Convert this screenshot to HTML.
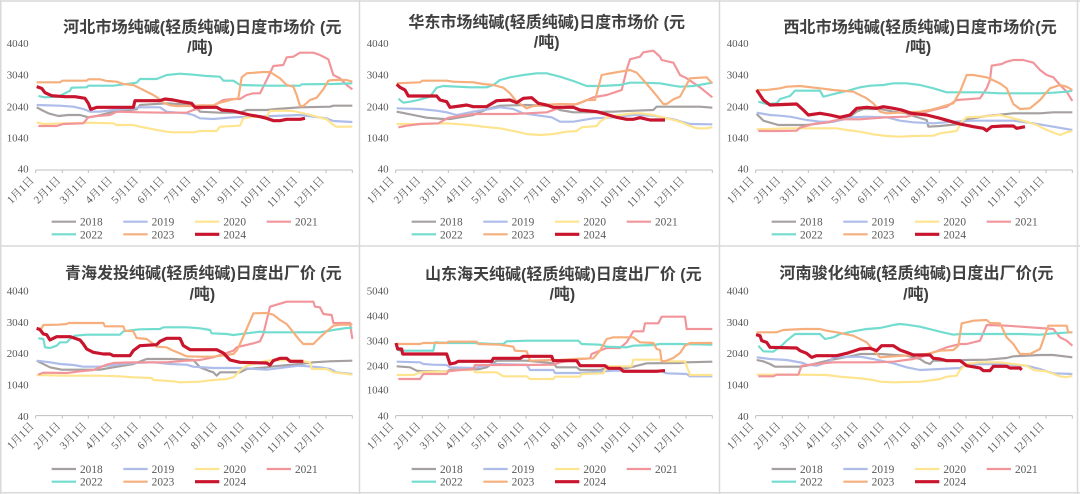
<!DOCTYPE html>
<html><head><meta charset="utf-8">
<style>
html,body{margin:0;padding:0;background:#fff;}
svg{display:block;}
.t{font-family:"Liberation Sans","Noto Sans CJK SC",sans-serif;font-weight:bold;font-size:48px;fill:#404040;text-anchor:middle;}
.yl text{font-family:"Liberation Serif",serif;font-size:33px;fill:#595959;text-anchor:end;}
.xl text{font-family:"Liberation Serif","Noto Serif CJK SC",serif;font-size:33px;fill:#595959;text-anchor:end;}
.lg text{font-family:"Liberation Serif",serif;font-size:34px;fill:#595959;}
.ax{stroke:#bfbfbf;stroke-width:3;fill:none;}
polyline,.lg line{fill:none;stroke-linejoin:round;stroke-linecap:butt;stroke-width:6.5;}
.c18{stroke:#a6a0a0;}.c19{stroke:#aebcea;}.c20{stroke:#ffe48f;}.c21{stroke:#f2959b;}.c22{stroke:#72dccf;}.c23{stroke:#f6ae7c;}.c24{stroke:#c8142c;stroke-width:9.5 !important;}
</style></head>
<body>
<svg width="1080" height="494" viewBox="0 0 1080 494" xmlns="http://www.w3.org/2000/svg">
<rect width="1080" height="494" fill="#fff"/>
<g stroke="#d9d9d9" stroke-width="1.5" fill="none">
<line x1="0.75" y1="0" x2="0.75" y2="494"/>
<line x1="0" y1="1" x2="1080" y2="1"/>
<line x1="0" y1="492.8" x2="1080" y2="492.8"/>
<line x1="1077.5" y1="0" x2="1077.5" y2="494"/>
<line x1="359.5" y1="0" x2="359.5" y2="494"/>
<line x1="719.5" y1="0" x2="719.5" y2="494"/>
<line x1="0" y1="246" x2="1080" y2="246"/>
</g>

<!-- PANEL 1 -->
<g transform="translate(0,0) scale(0.333333)">
<text class="t" x="607" y="98" textLength="835" lengthAdjust="spacingAndGlyphs">河北市场纯碱(轻质纯碱)日度市场价 (元</text>
<text class="t" x="600" y="158">/吨)</text>
<g class="yl"><text x="86" y="141">4040</text><text x="86" y="236">3040</text><text x="86" y="331">2040</text><text x="86" y="424">1040</text><text x="86" y="518">40</text></g>
<path class="ax" d="M107 510H1057M107 510v9M187 510v9M265 510v9M342 510v9M420 510v9M498 510v9M578 510v9M658 510v9M738 510v9M818 510v9M898 510v9M978 510v9M1057 510v9"/>
<g class="xl">
<text transform="translate(104,543) rotate(-45)">1月1日</text><text transform="translate(184,543) rotate(-45)">2月1日</text><text transform="translate(262,543) rotate(-45)">3月1日</text><text transform="translate(339,543) rotate(-45)">4月1日</text><text transform="translate(417,543) rotate(-45)">5月1日</text><text transform="translate(495,543) rotate(-45)">6月1日</text><text transform="translate(575,543) rotate(-45)">7月1日</text><text transform="translate(655,543) rotate(-45)">8月1日</text><text transform="translate(735,543) rotate(-45)">9月1日</text><text transform="translate(815,543) rotate(-45)">10月1日</text><text transform="translate(895,543) rotate(-45)">11月1日</text><text transform="translate(975,543) rotate(-45)">12月1日</text>
</g>
<polyline class="c18" points="110,322 125,330 145,340 175,348 205,345 240,345 265,352 290,348 340,335 410,328 420,315 500,310 580,315 600,335 660,338 720,338 740,330 800,330 830,327 900,322 990,320 1000,317 1057,317"/>
<polyline class="c19" points="110,315 180,317 220,320 250,327 270,335 300,335 340,330 400,325 420,322 480,322 500,335 560,340 580,345 600,355 640,357 700,352 760,350 820,348 900,345 940,350 980,355 1000,363 1057,366"/>
<polyline class="c20" points="110,367 130,372 200,370 260,368 340,370 350,375 400,375 420,380 460,388 500,395 520,397 580,397 600,393 650,393 660,380 720,377 730,355 760,350 800,350 810,333 840,332 880,333 920,342 950,350 980,358 1000,375 1010,380 1057,380"/>
<polyline class="c21" points="115,378 170,378 190,372 250,370 265,352 290,348 330,345 350,335 420,337 500,338 560,338 580,330 640,317 670,300 700,297 720,297 740,285 760,280 780,280 800,240 820,198 850,195 860,172 880,170 900,158 940,158 960,165 985,178 1000,225 1020,235 1040,255 1057,268"/>
<polyline class="c22" points="115,288 135,292 175,290 210,272 215,263 260,262 265,257 340,257 410,248 420,237 470,237 500,225 540,221 580,224 620,228 660,230 670,242 700,242 720,255 800,257 900,257 905,253 1000,252 1057,250"/>
<polyline class="c23" points="110,247 180,247 187,242 260,242 265,238 300,238 320,243 350,245 370,252 400,255 420,265 440,275 460,285 475,295 490,308 510,316 530,318 580,318 600,316 640,316 660,308 700,298 715,295 725,232 740,220 790,216 810,216 840,235 860,255 880,260 890,285 900,318 910,318 930,300 950,293 970,268 985,242 1000,240 1040,240 1057,245"/>
<polyline class="c24" points="110,260 125,265 135,278 155,287 195,290 225,290 255,295 265,310 272,328 290,322 400,322 405,302 480,302 495,297 520,300 545,305 575,310 585,322 650,322 665,330 700,333 720,338 750,345 780,350 800,355 820,362 840,362 860,358 900,358 915,355"/>
<g class="lg">
<line class="c18" x1="155" y1="665" x2="228" y2="665"/><text x="240" y="677">2018</text>
<line class="c19" x1="370" y1="665" x2="443" y2="665"/><text x="455" y="677">2019</text>
<line class="c20" x1="585" y1="665" x2="658" y2="665"/><text x="670" y="677">2020</text>
<line class="c21" x1="800" y1="665" x2="873" y2="665"/><text x="885" y="677">2021</text>
<line class="c22" x1="155" y1="703" x2="228" y2="703"/><text x="240" y="715">2022</text>
<line class="c23" x1="370" y1="703" x2="443" y2="703"/><text x="455" y="715">2023</text>
<line class="c24" x1="585" y1="703" x2="658" y2="703"/><text x="670" y="715">2024</text>
</g>
</g>

<!-- PANEL 2 -->
<g transform="translate(360,0) scale(0.333333)">
<text class="t" x="560" y="83" textLength="830" lengthAdjust="spacingAndGlyphs">华东市场纯碱(轻质纯碱)日度市场价 (元</text>
<text class="t" x="560" y="143">/吨)</text>
<g class="yl"><text x="86" y="141">4040</text><text x="86" y="236">3040</text><text x="86" y="331">2040</text><text x="86" y="424">1040</text><text x="86" y="518">40</text></g>
<path class="ax" d="M107 510H1057M107 510v9M187 510v9M265 510v9M342 510v9M420 510v9M498 510v9M578 510v9M658 510v9M738 510v9M818 510v9M898 510v9M978 510v9M1057 510v9"/>
<g class="xl">
<text transform="translate(104,543) rotate(-45)">1月1日</text><text transform="translate(184,543) rotate(-45)">2月1日</text><text transform="translate(262,543) rotate(-45)">3月1日</text><text transform="translate(339,543) rotate(-45)">4月1日</text><text transform="translate(417,543) rotate(-45)">5月1日</text><text transform="translate(495,543) rotate(-45)">6月1日</text><text transform="translate(575,543) rotate(-45)">7月1日</text><text transform="translate(655,543) rotate(-45)">8月1日</text><text transform="translate(735,543) rotate(-45)">9月1日</text><text transform="translate(815,543) rotate(-45)">10月1日</text><text transform="translate(895,543) rotate(-45)">11月1日</text><text transform="translate(975,543) rotate(-45)">12月1日</text>
</g>
<polyline class="c18" points="110,335 135,340 175,348 200,353 250,357 270,357 340,345 380,328 420,317 500,315 570,318 600,330 640,337 700,337 735,335 760,335 800,333 880,330 890,320 960,320 1020,320 1057,323"/>
<polyline class="c19" points="110,325 180,327 230,332 260,337 290,345 340,335 420,322 460,327 490,340 540,347 575,352 600,365 640,365 700,355 760,352 820,345 880,347 940,358 990,372 1057,373"/>
<polyline class="c20" points="110,372 180,372 260,370 330,375 370,380 420,385 470,395 500,402 540,405 580,402 620,395 650,393 665,382 710,378 720,365 740,352 780,345 820,340 840,340 880,345 920,355 960,365 990,378 1010,385 1040,385 1057,382"/>
<polyline class="c21" points="115,382 140,377 180,372 235,370 265,353 300,348 340,342 400,342 460,342 500,340 560,337 600,323 640,315 670,305 700,292 740,285 770,275 785,270 800,210 810,178 840,170 850,157 880,152 900,170 905,180 940,188 960,225 980,235 1020,262 1057,292"/>
<polyline class="c22" points="115,296 130,308 150,305 175,300 210,290 230,263 250,258 330,262 380,262 400,255 420,240 450,232 490,225 530,220 560,220 600,230 640,243 680,258 720,258 780,255 810,248 850,248 900,250 940,257 960,260 1000,258 1057,248"/>
<polyline class="c23" points="110,250 180,247 187,242 260,242 280,245 340,247 370,252 400,255 430,263 450,280 470,305 500,325 520,318 560,315 580,313 600,312 650,313 680,300 705,300 725,225 740,222 780,215 810,210 830,218 850,240 880,275 910,312 920,312 940,298 960,290 990,235 1040,232 1057,250"/>
<polyline class="c24" points="110,253 120,262 135,270 145,288 230,288 240,300 260,305 270,322 300,318 320,315 340,320 380,320 410,302 450,300 470,308 490,295 515,293 535,310 560,315 580,322 640,322 660,330 710,335 740,343 770,352 800,358 820,358 840,353 870,360 915,360"/>
<g class="lg">
<line class="c18" x1="155" y1="665" x2="228" y2="665"/><text x="240" y="677">2018</text>
<line class="c19" x1="370" y1="665" x2="443" y2="665"/><text x="455" y="677">2019</text>
<line class="c20" x1="585" y1="665" x2="658" y2="665"/><text x="670" y="677">2020</text>
<line class="c21" x1="800" y1="665" x2="873" y2="665"/><text x="885" y="677">2021</text>
<line class="c22" x1="155" y1="703" x2="228" y2="703"/><text x="240" y="715">2022</text>
<line class="c23" x1="370" y1="703" x2="443" y2="703"/><text x="455" y="715">2023</text>
<line class="c24" x1="585" y1="703" x2="658" y2="703"/><text x="670" y="715">2024</text>
</g>
</g>

<!-- PANEL 3 -->
<g transform="translate(720,0) scale(0.333333)">
<text class="t" x="600" y="98" textLength="820" lengthAdjust="spacingAndGlyphs">西北市场纯碱(轻质纯碱)日度市场价(元</text>
<text class="t" x="595" y="158">/吨)</text>
<g class="yl"><text x="86" y="141">4040</text><text x="86" y="236">3040</text><text x="86" y="331">2040</text><text x="86" y="424">1040</text><text x="86" y="518">40</text></g>
<path class="ax" d="M107 510H1057M107 510v9M187 510v9M265 510v9M342 510v9M420 510v9M498 510v9M578 510v9M658 510v9M738 510v9M818 510v9M898 510v9M978 510v9M1057 510v9"/>
<g class="xl">
<text transform="translate(104,543) rotate(-45)">1月1日</text><text transform="translate(184,543) rotate(-45)">2月1日</text><text transform="translate(262,543) rotate(-45)">3月1日</text><text transform="translate(339,543) rotate(-45)">4月1日</text><text transform="translate(417,543) rotate(-45)">5月1日</text><text transform="translate(495,543) rotate(-45)">6月1日</text><text transform="translate(575,543) rotate(-45)">7月1日</text><text transform="translate(655,543) rotate(-45)">8月1日</text><text transform="translate(735,543) rotate(-45)">9月1日</text><text transform="translate(815,543) rotate(-45)">10月1日</text><text transform="translate(895,543) rotate(-45)">11月1日</text><text transform="translate(975,543) rotate(-45)">12月1日</text>
</g>
<polyline class="c18" points="110,342 130,362 175,375 260,375 340,365 390,350 410,335 430,327 480,327 520,335 560,340 580,348 620,360 625,380 660,378 720,372 740,358 800,348 880,340 960,340 1000,337 1057,337"/>
<polyline class="c19" points="110,338 150,345 180,347 210,350 260,360 300,365 340,365 400,352 440,350 500,352 540,362 580,367 640,370 700,365 760,362 840,362 880,362 940,370 1000,380 1057,390"/>
<polyline class="c20" points="110,388 200,385 300,385 350,385 380,390 420,395 460,403 500,408 540,410 580,408 640,407 660,400 710,393 725,365 740,352 780,350 820,347 840,345 880,355 920,365 950,375 980,390 1020,405 1040,397 1057,393"/>
<polyline class="c21" points="115,393 180,393 230,392 240,383 280,372 320,367 360,358 420,358 460,355 500,352 560,350 600,340 640,330 680,320 710,300 740,298 780,295 800,265 810,240 815,197 845,192 860,185 880,180 910,180 940,188 960,210 980,225 1000,232 1020,255 1040,275 1057,303"/>
<polyline class="c22" points="115,305 140,312 170,310 180,297 210,288 225,272 300,272 310,290 330,285 350,280 380,273 420,262 450,257 490,255 520,250 560,250 600,255 640,265 680,277 720,277 780,277 840,280 900,280 960,280 1000,278 1040,275 1057,272"/>
<polyline class="c23" points="110,270 140,270 180,265 200,260 240,258 300,265 340,270 400,275 440,295 460,310 480,335 500,340 560,337 600,335 630,330 660,322 700,310 720,275 740,225 760,225 800,232 840,250 860,265 880,312 900,327 930,325 960,300 990,265 1020,255 1040,260 1057,270"/>
<polyline class="c24" points="110,270 130,300 150,315 230,312 250,330 265,345 300,340 330,345 360,352 390,345 410,325 440,322 470,325 490,320 520,325 545,330 575,340 620,345 660,355 720,372 760,380 790,385 800,392 815,380 850,378 880,378 890,385 915,380"/>
<g class="lg">
<line class="c18" x1="155" y1="665" x2="228" y2="665"/><text x="240" y="677">2018</text>
<line class="c19" x1="370" y1="665" x2="443" y2="665"/><text x="455" y="677">2019</text>
<line class="c20" x1="585" y1="665" x2="658" y2="665"/><text x="670" y="677">2020</text>
<line class="c21" x1="800" y1="665" x2="873" y2="665"/><text x="885" y="677">2021</text>
<line class="c22" x1="155" y1="703" x2="228" y2="703"/><text x="240" y="715">2022</text>
<line class="c23" x1="370" y1="703" x2="443" y2="703"/><text x="455" y="715">2023</text>
<line class="c24" x1="585" y1="703" x2="658" y2="703"/><text x="670" y="715">2024</text>
</g>
</g>

<!-- PANEL 4 -->
<g transform="translate(0,244) scale(0.333333)">
<text class="t" x="610" y="104" textLength="830" lengthAdjust="spacingAndGlyphs">青海发投纯碱(轻质纯碱)日度出厂价 (元</text>
<text class="t" x="607" y="166">/吨)</text>
<g class="yl"><text x="86" y="151">4040</text><text x="86" y="246">3040</text><text x="86" y="339">2040</text><text x="86" y="433">1040</text><text x="86" y="528">40</text></g>
<path class="ax" d="M107 515H1057M107 515v9M187 515v9M265 515v9M342 515v9M420 515v9M498 515v9M578 515v9M658 515v9M738 515v9M818 515v9M898 515v9M978 515v9M1057 515v9"/>
<g class="xl">
<text transform="translate(104,548) rotate(-45)">1月1日</text><text transform="translate(184,548) rotate(-45)">2月1日</text><text transform="translate(262,548) rotate(-45)">3月1日</text><text transform="translate(339,548) rotate(-45)">4月1日</text><text transform="translate(417,548) rotate(-45)">5月1日</text><text transform="translate(495,548) rotate(-45)">6月1日</text><text transform="translate(575,548) rotate(-45)">7月1日</text><text transform="translate(655,548) rotate(-45)">8月1日</text><text transform="translate(735,548) rotate(-45)">9月1日</text><text transform="translate(815,548) rotate(-45)">10月1日</text><text transform="translate(895,548) rotate(-45)">11月1日</text><text transform="translate(975,548) rotate(-45)">12月1日</text>
</g>
<polyline class="c18" points="110,350 150,370 185,377 240,377 300,377 340,370 400,360 440,345 520,345 580,348 600,370 625,380 640,385 650,395 660,385 720,385 740,375 800,370 820,367 900,360 940,355 990,352 1057,350"/>
<polyline class="c19" points="110,350 150,355 180,360 220,363 250,368 300,368 340,363 400,357 460,355 510,360 560,362 580,368 640,372 720,372 800,377 880,367 900,365 960,370 990,375 1010,385 1057,390"/>
<polyline class="c20" points="110,393 200,395 300,395 360,397 400,400 455,402 460,408 520,412 540,415 600,413 620,410 640,408 680,405 700,400 720,380 740,365 760,360 800,350 840,348 900,350 930,355 935,375 980,375 1000,385 1057,392"/>
<polyline class="c21" points="115,392 130,386 200,387 240,382 280,378 320,362 340,357 400,355 500,355 560,350 600,348 640,340 670,330 700,320 710,310 760,298 780,292 790,270 810,188 830,182 860,173 940,173 945,188 960,190 970,210 995,213 1000,237 1050,237 1057,285"/>
<polyline class="c22" points="115,283 130,285 135,310 150,312 170,305 180,295 200,295 210,285 225,275 260,272 360,272 370,262 400,258 420,256 480,255 490,250 560,250 600,253 630,258 635,268 680,270 700,273 740,268 780,263 800,265 880,265 960,265 990,260 1000,258 1020,255 1040,252 1057,252"/>
<polyline class="c23" points="110,253 125,253 130,243 175,242 200,240 205,237 310,237 315,247 370,247 375,260 400,262 410,282 440,285 460,300 470,308 500,310 515,318 540,328 560,337 600,338 640,338 700,330 710,320 720,300 740,255 760,208 800,207 820,212 840,228 860,240 880,265 900,290 910,300 940,300 960,280 980,262 1000,245 1020,242 1050,242 1057,240"/>
<polyline class="c24" points="110,253 120,257 130,270 140,272 150,288 160,283 170,278 210,278 240,288 250,300 260,315 280,325 310,330 330,330 340,335 390,335 400,320 420,305 470,302 480,292 500,283 540,283 550,305 570,317 650,317 670,327 690,348 720,355 800,357 810,363 820,350 840,343 860,343 870,352 910,352"/>
<g class="lg">
<line class="c18" x1="155" y1="675" x2="228" y2="675"/><text x="240" y="687">2018</text>
<line class="c19" x1="370" y1="675" x2="443" y2="675"/><text x="455" y="687">2019</text>
<line class="c20" x1="585" y1="675" x2="658" y2="675"/><text x="670" y="687">2020</text>
<line class="c21" x1="800" y1="675" x2="873" y2="675"/><text x="885" y="687">2021</text>
<line class="c22" x1="155" y1="713" x2="228" y2="713"/><text x="240" y="725">2022</text>
<line class="c23" x1="370" y1="713" x2="443" y2="713"/><text x="455" y="725">2023</text>
<line class="c24" x1="585" y1="713" x2="658" y2="713"/><text x="670" y="725">2024</text>
</g>
</g>

<!-- PANEL 5 -->
<g transform="translate(360,244) scale(0.333333)">
<text class="t" x="610" y="106" textLength="830" lengthAdjust="spacingAndGlyphs">山东海天纯碱(轻质纯碱)日度出厂价 (元</text>
<text class="t" x="607" y="166">/吨)</text>
<g class="yl"><text x="86" y="151">5040</text><text x="86" y="226">4040</text><text x="86" y="301">3040</text><text x="86" y="376">2040</text><text x="86" y="448">1040</text><text x="86" y="526">40</text></g>
<path class="ax" d="M107 515H1057M107 515v9M187 515v9M265 515v9M342 515v9M420 515v9M498 515v9M578 515v9M658 515v9M738 515v9M818 515v9M898 515v9M978 515v9M1057 515v9"/>
<g class="xl">
<text transform="translate(104,548) rotate(-45)">1月1日</text><text transform="translate(184,548) rotate(-45)">2月1日</text><text transform="translate(262,548) rotate(-45)">3月1日</text><text transform="translate(339,548) rotate(-45)">4月1日</text><text transform="translate(417,548) rotate(-45)">5月1日</text><text transform="translate(495,548) rotate(-45)">6月1日</text><text transform="translate(575,548) rotate(-45)">7月1日</text><text transform="translate(655,548) rotate(-45)">8月1日</text><text transform="translate(735,548) rotate(-45)">9月1日</text><text transform="translate(815,548) rotate(-45)">10月1日</text><text transform="translate(895,548) rotate(-45)">11月1日</text><text transform="translate(975,548) rotate(-45)">12月1日</text>
</g>
<polyline class="c18" points="110,367 150,370 170,380 190,382 260,382 270,377 340,377 360,375 380,370 410,350 500,350 580,358 590,370 650,370 660,378 720,378 740,372 800,372 820,368 860,358 960,357 980,355 1057,353"/>
<polyline class="c19" points="110,353 180,355 190,360 220,362 260,363 270,370 340,372 400,360 500,362 510,378 580,378 585,387 660,387 720,383 760,380 900,380 920,388 980,390 990,397 1057,397"/>
<polyline class="c20" points="110,393 160,393 180,385 260,382 300,378 340,378 345,385 410,385 430,397 500,397 510,405 580,405 585,398 660,398 665,390 730,388 740,367 815,367 820,347 900,347 910,352 975,352 990,393 1057,393"/>
<polyline class="c21" points="115,405 180,405 190,390 260,390 265,382 300,378 340,375 345,363 500,363 580,362 600,355 660,345 690,343 695,330 720,320 740,312 780,312 800,295 820,262 850,262 855,238 895,238 905,218 975,218 980,255 1057,255"/>
<polyline class="c22" points="110,315 120,320 130,320 220,320 225,295 270,297 340,297 400,300 430,300 440,292 500,290 580,290 620,290 655,290 665,300 720,302 740,308 800,310 820,305 880,303 900,300 960,300 1057,302"/>
<polyline class="c23" points="110,300 180,300 190,297 260,297 265,293 350,293 355,300 420,302 460,308 465,320 500,322 510,350 580,348 600,348 640,345 700,343 720,320 740,285 760,280 820,280 840,295 880,297 890,315 900,318 905,352 920,350 940,342 960,327 975,305 990,297 1057,297"/>
<polyline class="c24" points="108,297 113,315 125,315 128,330 260,330 270,360 285,357 295,352 395,352 400,343 480,343 490,337 575,337 580,350 650,350 660,365 735,365 745,373 780,373 790,382 890,382 910,380 915,380"/>
<g class="lg">
<line class="c18" x1="155" y1="675" x2="228" y2="675"/><text x="240" y="687">2018</text>
<line class="c19" x1="370" y1="675" x2="443" y2="675"/><text x="455" y="687">2019</text>
<line class="c20" x1="585" y1="675" x2="658" y2="675"/><text x="670" y="687">2020</text>
<line class="c21" x1="800" y1="675" x2="873" y2="675"/><text x="885" y="687">2021</text>
<line class="c22" x1="155" y1="713" x2="228" y2="713"/><text x="240" y="725">2022</text>
<line class="c23" x1="370" y1="713" x2="443" y2="713"/><text x="455" y="725">2023</text>
<line class="c24" x1="585" y1="713" x2="658" y2="713"/><text x="670" y="725">2024</text>
</g>
</g>

<!-- PANEL 6 -->
<g transform="translate(720,244) scale(0.333333)">
<text class="t" x="589" y="103" textLength="822" lengthAdjust="spacingAndGlyphs">河南骏化纯碱(轻质纯碱)日度出厂价(元</text>
<text class="t" x="588" y="166">/吨)</text>
<g class="yl"><text x="86" y="151">4040</text><text x="86" y="246">3040</text><text x="86" y="339">2040</text><text x="86" y="433">1040</text><text x="86" y="528">40</text></g>
<path class="ax" d="M107 515H1057M107 515v9M187 515v9M265 515v9M342 515v9M420 515v9M498 515v9M578 515v9M658 515v9M738 515v9M818 515v9M898 515v9M978 515v9M1057 515v9"/>
<g class="xl">
<text transform="translate(104,548) rotate(-45)">1月1日</text><text transform="translate(184,548) rotate(-45)">2月1日</text><text transform="translate(262,548) rotate(-45)">3月1日</text><text transform="translate(339,548) rotate(-45)">4月1日</text><text transform="translate(417,548) rotate(-45)">5月1日</text><text transform="translate(495,548) rotate(-45)">6月1日</text><text transform="translate(575,548) rotate(-45)">7月1日</text><text transform="translate(655,548) rotate(-45)">8月1日</text><text transform="translate(735,548) rotate(-45)">9月1日</text><text transform="translate(815,548) rotate(-45)">10月1日</text><text transform="translate(895,548) rotate(-45)">11月1日</text><text transform="translate(975,548) rotate(-45)">12月1日</text>
</g>
<polyline class="c18" points="110,348 130,352 150,360 165,368 240,368 260,365 330,348 400,335 420,330 480,330 560,335 600,345 615,355 630,360 640,350 700,350 740,348 800,347 860,342 880,337 960,333 1000,333 1057,340"/>
<polyline class="c19" points="110,340 150,345 200,348 250,357 260,362 290,365 330,352 340,340 420,338 460,345 520,358 560,370 600,378 660,375 720,372 740,362 800,360 860,362 920,365 960,375 980,382 1000,388 1057,390"/>
<polyline class="c20" points="110,392 240,392 320,393 360,398 420,403 460,408 480,413 520,415 600,413 640,408 660,405 680,398 710,395 720,378 740,360 780,355 840,355 880,360 920,365 940,378 980,382 1020,397 1040,400 1057,395"/>
<polyline class="c21" points="115,397 160,397 170,392 235,392 245,365 290,360 340,355 400,355 460,355 520,353 580,345 600,340 640,325 680,310 720,300 740,300 780,290 800,243 860,245 1000,255 1020,280 1040,290 1057,305"/>
<polyline class="c22" points="115,305 130,322 160,323 185,305 200,290 225,270 300,270 315,285 340,280 360,270 400,262 440,255 480,252 520,243 540,240 560,242 600,248 640,258 660,263 700,272 720,270 800,270 900,270 960,272 1000,268 1057,265"/>
<polyline class="c23" points="110,265 170,265 190,258 250,255 300,255 320,260 350,265 400,275 440,295 480,340 520,337 580,333 620,330 660,320 700,318 715,305 725,238 740,235 760,230 800,228 810,237 840,238 860,280 880,300 900,330 930,330 960,315 985,245 1040,245 1045,265 1057,265"/>
<polyline class="c24" points="108,272 120,275 125,290 140,295 150,310 230,312 240,320 260,328 275,340 290,335 350,335 380,328 420,315 450,313 470,320 485,305 520,305 540,318 560,325 580,333 630,333 640,343 660,345 680,350 720,350 740,365 780,372 790,380 810,380 820,367 860,367 870,372 900,372 905,378"/>
<g class="lg">
<line class="c18" x1="155" y1="675" x2="228" y2="675"/><text x="240" y="687">2018</text>
<line class="c19" x1="370" y1="675" x2="443" y2="675"/><text x="455" y="687">2019</text>
<line class="c20" x1="585" y1="675" x2="658" y2="675"/><text x="670" y="687">2020</text>
<line class="c21" x1="800" y1="675" x2="873" y2="675"/><text x="885" y="687">2021</text>
<line class="c22" x1="155" y1="713" x2="228" y2="713"/><text x="240" y="725">2022</text>
<line class="c23" x1="370" y1="713" x2="443" y2="713"/><text x="455" y="725">2023</text>
<line class="c24" x1="585" y1="713" x2="658" y2="713"/><text x="670" y="725">2024</text>
</g>
</g>
</svg>
</body></html>
